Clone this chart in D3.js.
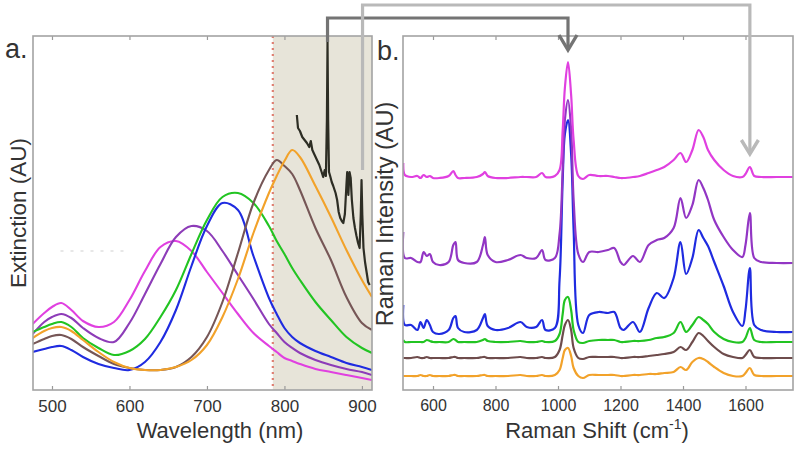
<!DOCTYPE html>
<html><head><meta charset="utf-8">
<script src="https://cdn.jsdelivr.net/npm/d3@7"></script>
<style>
body{margin:0;background:#fff}
svg{display:block}
text{font-family:"Liberation Sans",Arial,sans-serif;fill:#333}
</style>
</head><body>
<svg id="c" width="800" height="449"></svg>
<script>
// ---------- Panel a: extinction spectra (AU) ----------
const wavelengths = [475,490,500,512,525,540,560,580,600,620,640,660,680,700,720,740,760,780,790,800,810,820,840,860,880,900,913];
const extMagenta = [0.33,0.385,0.415,0.435,0.40,0.345,0.315,0.34,0.45,0.595,0.715,0.745,0.695,0.59,0.485,0.38,0.285,0.22,0.19,0.16,0.145,0.13,0.105,0.09,0.075,0.06,0.05];
const extPurple  = [0.28,0.34,0.365,0.38,0.36,0.31,0.26,0.24,0.335,0.48,0.63,0.765,0.82,0.795,0.695,0.575,0.455,0.33,0.285,0.24,0.21,0.185,0.15,0.125,0.105,0.09,0.075];
const extGreen   = [0.29,0.315,0.33,0.34,0.315,0.26,0.21,0.175,0.195,0.255,0.365,0.50,0.68,0.85,0.965,0.985,0.935,0.82,0.745,0.68,0.61,0.55,0.44,0.35,0.265,0.21,0.185];
const extBlue    = [0.19,0.205,0.215,0.22,0.20,0.165,0.13,0.11,0.10,0.14,0.24,0.40,0.62,0.82,0.935,0.90,0.67,0.46,0.38,0.31,0.265,0.235,0.195,0.165,0.135,0.115,0.10];
const extBrown   = [0.23,0.255,0.27,0.275,0.255,0.215,0.17,0.13,0.11,0.10,0.10,0.115,0.165,0.265,0.44,0.685,0.935,1.10,1.15,1.12,1.08,1.00,0.81,0.65,0.465,0.335,0.30];
const extOrange  = [0.26,0.295,0.31,0.315,0.295,0.25,0.19,0.14,0.11,0.10,0.10,0.115,0.15,0.225,0.365,0.555,0.785,0.985,1.07,1.145,1.20,1.165,1.02,0.865,0.70,0.55,0.465];

// Raman spectrum plotted on wavelength axis (black trace)
const ramanWl  = [816,817.5,820,823,826,829,832,834,836,839,842,845,848,850,852,853.5,854.8,855.6,856.4,857.5,859,861,863,866,868,870,872,874,876,878,880,881,882.5,884,885.5,887,889,891,893,895,897,898.5,899.5,900.5,902,904,906,908,910];
const ramanWlI = [1.375,1.31,1.295,1.265,1.25,1.235,1.215,1.245,1.20,1.175,1.15,1.125,1.09,1.065,1.10,1.07,1.35,1.74,1.35,1.09,1.07,1.04,1.02,0.985,0.95,0.89,0.86,0.845,0.835,0.88,1.025,1.09,0.975,1.09,1.06,0.95,0.86,0.81,0.77,0.735,0.71,0.875,1.05,0.875,0.71,0.64,0.59,0.54,0.525];

const laserWl = 785;
const wlTicks = [500,600,700,800,900];

// ---------- Panel b: Raman spectra (AU, stacked) ----------
const ramanShift = [505,510,530,550,560,570,580,590,600,620,650,665,672,680,700,740,760,766,775,800,840,880,900,930,949,960,990,1005,1015,1022,1032,1042,1050,1065,1080,1100,1130,1160,1180,1200,1210,1240,1262,1290,1316,1340,1370,1392,1410,1430,1450,1465,1480,1500,1530,1560,1590,1600,1614,1628,1650,1700,1752];
const ramMagenta = [1.135,1.075,1.065,1.07,1.06,1.075,1.065,1.07,1.06,1.06,1.07,1.095,1.075,1.06,1.06,1.065,1.08,1.09,1.07,1.06,1.06,1.065,1.065,1.065,1.085,1.065,1.07,1.10,1.30,1.51,1.64,1.475,1.25,1.07,1.055,1.075,1.07,1.07,1.065,1.06,1.06,1.065,1.07,1.085,1.10,1.115,1.15,1.185,1.14,1.20,1.30,1.265,1.20,1.15,1.10,1.07,1.065,1.08,1.115,1.07,1.065,1.065,1.065];
const ramPurple  = [0.79,0.66,0.66,0.64,0.64,0.69,0.67,0.68,0.64,0.625,0.64,0.725,0.74,0.65,0.635,0.64,0.725,0.765,0.675,0.64,0.65,0.675,0.66,0.66,0.70,0.65,0.66,0.78,1.10,1.35,1.45,1.30,0.95,0.68,0.64,0.69,0.69,0.70,0.71,0.64,0.625,0.67,0.64,0.725,0.75,0.76,0.81,0.96,0.86,0.925,1.05,1.01,0.95,0.85,0.765,0.70,0.665,0.725,0.885,0.66,0.64,0.635,0.635];
const ramBlue    = [0.425,0.325,0.325,0.30,0.34,0.31,0.35,0.325,0.29,0.28,0.30,0.36,0.37,0.31,0.29,0.30,0.36,0.38,0.32,0.30,0.31,0.34,0.315,0.315,0.35,0.30,0.31,0.55,1.05,1.28,1.35,1.18,0.80,0.325,0.285,0.375,0.39,0.385,0.39,0.31,0.30,0.34,0.29,0.41,0.485,0.46,0.56,0.74,0.58,0.66,0.80,0.76,0.72,0.64,0.52,0.39,0.32,0.40,0.61,0.325,0.30,0.29,0.29];
const ramGreen   = [0.25,0.24,0.24,0.24,0.24,0.24,0.25,0.245,0.24,0.24,0.24,0.255,0.25,0.24,0.24,0.24,0.25,0.255,0.245,0.24,0.24,0.245,0.24,0.24,0.245,0.24,0.245,0.28,0.38,0.45,0.465,0.40,0.30,0.24,0.235,0.245,0.25,0.25,0.25,0.24,0.24,0.245,0.245,0.25,0.26,0.265,0.285,0.34,0.29,0.325,0.365,0.35,0.33,0.29,0.255,0.24,0.24,0.26,0.31,0.25,0.24,0.24,0.24];
const ramBrown   = [0.16,0.16,0.16,0.165,0.16,0.16,0.165,0.16,0.16,0.16,0.16,0.165,0.165,0.16,0.16,0.16,0.165,0.165,0.16,0.16,0.16,0.165,0.16,0.16,0.165,0.16,0.165,0.20,0.275,0.325,0.35,0.30,0.21,0.16,0.155,0.165,0.165,0.165,0.165,0.16,0.16,0.165,0.165,0.17,0.175,0.18,0.19,0.215,0.20,0.24,0.285,0.27,0.245,0.215,0.18,0.165,0.16,0.175,0.20,0.165,0.16,0.16,0.16];
const ramOrange  = [0.07,0.07,0.07,0.07,0.075,0.07,0.07,0.075,0.07,0.07,0.07,0.075,0.075,0.07,0.07,0.07,0.075,0.075,0.07,0.07,0.07,0.075,0.07,0.07,0.075,0.07,0.075,0.10,0.16,0.20,0.21,0.17,0.11,0.07,0.06,0.075,0.075,0.075,0.075,0.07,0.07,0.075,0.075,0.08,0.08,0.085,0.09,0.115,0.10,0.14,0.16,0.155,0.14,0.115,0.085,0.07,0.07,0.085,0.11,0.075,0.07,0.07,0.07];
const ramanTicks = [600,800,1000,1200,1400,1600];

const colMagenta = "#e040e0", colPurple = "#9236c4", colBlue = "#1f2be0",
      colGreen = "#22c422", colBrown = "#6e4c4c", colOrange = "#f2a22a";

const extSeries = [
  {v: extMagenta, c: colMagenta},
  {v: extPurple,  c: "#8d3cb8"},
  {v: extGreen,   c: colGreen},
  {v: extBlue,    c: colBlue},
  {v: extBrown,   c: "#765656"},
  {v: extOrange,  c: colOrange}
];
const ramSeries = [
  {v: ramOrange,  c: colOrange},
  {v: ramBrown,   c: colBrown},
  {v: ramGreen,   c: colGreen},
  {v: ramBlue,    c: colBlue},
  {v: ramPurple,  c: colPurple},
  {v: ramMagenta, c: colMagenta}
];

// ---------- drawing ----------
const svg = d3.select("#c");
const yTop = 36, yBot = 390;
const y  = d3.scaleLinear().domain([0, 1.77]).range([yBot, yTop]);
const xA = d3.scaleLinear().domain([475.5, 913]).range([33, 372]);
const xB = d3.scaleLinear().domain([504, 1752]).range([403, 793]);

const defs = svg.append("defs");
defs.append("clipPath").attr("id","clipA").append("rect")
  .attr("x", xA.range()[0]).attr("y", yTop).attr("width", xA.range()[1]-xA.range()[0]).attr("height", yBot-yTop);
defs.append("clipPath").attr("id","clipB").append("rect")
  .attr("x", xB.range()[0]).attr("y", yTop).attr("width", xB.range()[1]-xB.range()[0]).attr("height", yBot-yTop);

// Panel a
const gA = svg.append("g");
const plotA = gA.append("g").attr("clip-path","url(#clipA)");
plotA.append("rect")
  .attr("x", xA(laserWl)).attr("y", yTop)
  .attr("width", xA.range()[1]-xA(laserWl)).attr("height", yBot-yTop)
  .attr("fill", "#e7e4d9");
plotA.append("line")
  .attr("x1", xA(laserWl)).attr("x2", xA(laserWl)).attr("y1", yTop).attr("y2", yBot)
  .attr("stroke", "#df7f72").attr("stroke-width", 2.2).attr("stroke-dasharray", "2,4");

// faint artifact dashes
plotA.append("line")
  .attr("x1", xA(511)).attr("x2", xA(597)).attr("y1", y(0.695)).attr("y2", y(0.695))
  .attr("stroke", "#cfcfcf").attr("stroke-width", 1).attr("stroke-dasharray", "3,7");

const lineA = d3.line().x((d,i)=>xA(wavelengths[i])).y(d=>y(d)).curve(d3.curveCatmullRom.alpha(0.5));
extSeries.forEach(s => {
  plotA.append("path").attr("d", lineA(s.v)).attr("fill","none")
    .attr("stroke", s.c).attr("stroke-width", 2.1).attr("stroke-linejoin","round");
});
const lineR = d3.line().x((d,i)=>xA(ramanWl[i])).y(d=>y(d));
plotA.append("path").attr("d", lineR(ramanWlI)).attr("fill","none")
  .attr("stroke", "#2d2d24").attr("stroke-width", 2.2).attr("stroke-linejoin","round");

// axes a
const axA = d3.axisBottom(xA).tickValues(wlTicks).tickSizeInner(-4).tickSizeOuter(0).tickPadding(10).tickFormat(d3.format("d"));
const gxA = gA.append("g").attr("transform", `translate(0,${yBot})`).call(axA);
const axAt = d3.axisTop(xA).tickValues(wlTicks).tickSizeInner(-4).tickSizeOuter(0).tickFormat("");
const gxAt = gA.append("g").attr("transform", `translate(0,${yTop})`).call(axAt);
[gxA, gxAt].forEach(g => {
  g.select(".domain").remove();
  g.selectAll("line").attr("stroke", "#9a9a9a").attr("stroke-width", 1.2);
});
gxA.selectAll("text").attr("font-size", 17).attr("fill", "#3a3a3a")
  .style("font-family", '"Liberation Sans",Arial,sans-serif');
gA.append("rect").attr("x", xA.range()[0]).attr("y", yTop)
  .attr("width", xA.range()[1]-xA.range()[0]).attr("height", yBot-yTop)
  .attr("fill","none").attr("stroke","#a3a3a3").attr("stroke-width",1.6);

// Panel b
const gB = svg.append("g");
const plotB = gB.append("g").attr("clip-path","url(#clipB)");
const lineB = d3.line().x((d,i)=>xB(ramanShift[i])).y(d=>y(d)).curve(d3.curveCatmullRom.alpha(0.5));
ramSeries.forEach(s => {
  plotB.append("path").attr("d", lineB(s.v)).attr("fill","none")
    .attr("stroke", s.c).attr("stroke-width", 2.2).attr("stroke-linejoin","round");
});
const axB = d3.axisBottom(xB).tickValues(ramanTicks).tickSizeInner(-4).tickSizeOuter(0).tickPadding(10).tickFormat(d3.format("d"));
const gxB = gB.append("g").attr("transform", `translate(0,${yBot})`).call(axB);
const axBt = d3.axisTop(xB).tickValues(ramanTicks).tickSizeInner(-4).tickSizeOuter(0).tickFormat("");
const gxBt = gB.append("g").attr("transform", `translate(0,${yTop})`).call(axBt);
[gxB, gxBt].forEach(g => {
  g.select(".domain").remove();
  g.selectAll("line").attr("stroke", "#9a9a9a").attr("stroke-width", 1.2);
});
gxB.selectAll("text").attr("font-size", 16).attr("fill", "#3a3a3a")
  .style("font-family", '"Liberation Sans",Arial,sans-serif');
gB.append("rect").attr("x", xB.range()[0]).attr("y", yTop)
  .attr("width", xB.range()[1]-xB.range()[0]).attr("height", yBot-yTop)
  .attr("fill","none").attr("stroke","#a3a3a3").attr("stroke-width",1.6);

// Titles / labels
svg.append("text").attr("x", 5).attr("y", 58).attr("font-size", 27).text("a.");
svg.append("text").attr("x", 377).attr("y", 60).attr("font-size", 27).text("b.");
svg.append("text").attr("transform","translate(26,213) rotate(-90)").attr("text-anchor","middle")
  .attr("font-size", 22.5).text("Extinction (AU)");
svg.append("text").attr("transform","translate(393,214) rotate(-90)").attr("text-anchor","middle")
  .attr("font-size", 23.5).text("Raman Intensity (AU)");
svg.append("text").attr("x", 220).attr("y", 438).attr("text-anchor","middle")
  .attr("font-size", 22).text("Wavelength (nm)");
const tB = svg.append("text").attr("x", 597).attr("y", 438).attr("text-anchor","middle").attr("font-size", 22);
tB.append("tspan").text("Raman Shift (cm");
tB.append("tspan").attr("font-size", 14).attr("dy", -9).text("-1");
tB.append("tspan").attr("dy", 9).text(")");

// Arrows linking the Raman peaks
const darkX1 = xA(855.6), darkX2 = xB(1032);
svg.append("path")
  .attr("d", `M${darkX1},${y(1.74)} V18 H${darkX2} V48`)
  .attr("fill","none").attr("stroke","#747474").attr("stroke-width",3.2);
svg.append("path")
  .attr("d", `M${darkX2-9},${35} L${darkX2},${50} L${darkX2+9},${35}`)
  .attr("fill","none").attr("stroke","#747474").attr("stroke-width",3.4).attr("stroke-linejoin","miter");

const lightX1 = xA(900.8), lightX2 = xB(1614);
svg.append("path")
  .attr("d", `M${lightX1},170 V5 H${lightX2} V152`)
  .attr("fill","none").attr("stroke","#b9b9b9").attr("stroke-width",3.2);
svg.append("path")
  .attr("d", `M${lightX2-8.5},${140} L${lightX2},${154} L${lightX2+8.5},${140}`)
  .attr("fill","none").attr("stroke","#b9b9b9").attr("stroke-width",3.4);
</script>
</body></html>
